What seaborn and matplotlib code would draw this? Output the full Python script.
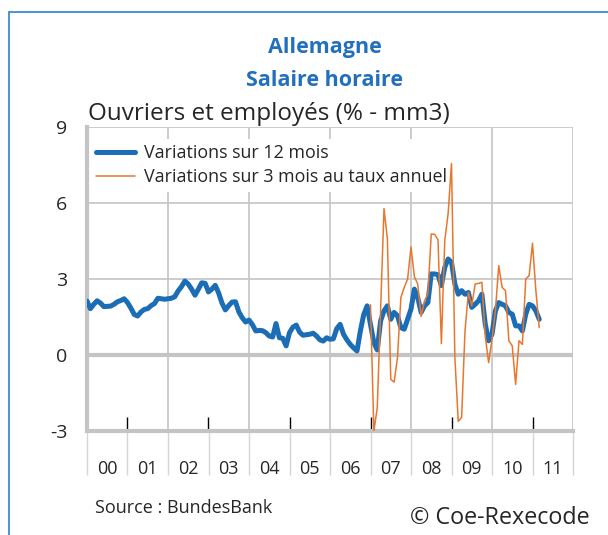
import numpy as np
import pandas as pd
import matplotlib
matplotlib.use("Agg")
import matplotlib.pyplot as plt
import seaborn as sns
from matplotlib.patches import Rectangle

# Données mensuelles, janvier 2000 -> mars 2011
years = ["00", "01", "02", "03", "04", "05", "06", "07", "08", "09", "10", "11"]

wage_12m = [
    2.13, 1.83, 2.0, 2.14, 2.05, 1.91, 1.92, 1.93, 2.0, 2.1, 2.15, 2.22,      # 2000
    2.07, 1.85, 1.6, 1.54, 1.7, 1.8, 1.83, 1.95, 2.03, 2.24, 2.22, 2.2,       # 2001
    2.22, 2.24, 2.3, 2.53, 2.7, 2.92, 2.8, 2.6, 2.36, 2.6, 2.85, 2.83,        # 2002
    2.49, 2.6, 2.75, 2.45, 2.05, 1.78, 1.95, 2.09, 2.1, 1.7, 1.47, 1.3,       # 2003
    1.38, 1.2, 0.95, 0.97, 0.96, 0.88, 0.75, 0.71, 1.24, 0.68, 0.66, 0.36,    # 2004
    0.88, 1.1, 1.18, 0.9, 0.78, 0.8, 0.82, 0.86, 0.75, 0.6, 0.55, 0.68,       # 2005
    0.62, 0.64, 1.04, 1.21, 0.82, 0.6, 0.42, 0.28, 0.16, 0.95, 1.6, 1.94,     # 2006
    1.2, 0.49, 0.2, 1.35, 1.74, 1.94, 1.41, 1.68, 1.55, 1.08, 1.02, 1.41,     # 2007
    1.81, 2.6, 2.27, 1.68, 1.94, 2.07, 3.2, 3.2, 3.17, 2.74, 3.46, 3.79,      # 2008
    3.66, 2.8, 2.4, 2.54, 2.4, 2.47, 1.88, 2.0, 2.14, 2.4, 1.22, 0.56,        # 2009
    0.82, 1.74, 2.07, 2.0, 1.94, 1.68, 1.61, 1.15, 1.15, 0.95, 1.61, 2.0,     # 2010
    1.94, 1.74, 1.41,                                                         # 2011
]

# taux annualisé sur 3 mois, à partir de janvier 2007
first_3m_month = 84
wage_3m_ann = [
    1.98, -3.0, -2.09, 1.8, 5.78, 4.59, -0.96, -1.07, -0.1, 2.27, 2.67, 3.0,  # 2007
    4.26, 3.09, 2.8, 1.52, 2.14, 2.4, 4.78, 4.76, 4.55, 0.45, 4.52, 5.58,     # 2008
    7.56, -0.1, -2.62, -2.46, 0.95, 2.47, 1.94, 2.8, 2.83, 2.87, 0.75, -0.3,  # 2009
    0.62, 1.74, 3.53, 2.67, 2.54, 0.56, 0.36, -1.16, 0.56, 0.42, 3.0, 3.13,   # 2010
    4.41, 2.54, 1.08,                                                         # 2011
]

BLUE = "#1b6db6"
ORANGE = "#e8772e"
TITLE_BLUE = "#2270bd"
GRID = "#c8c8c8"

sns.set_style("white")
plt.rcParams["font.family"] = ["Open Sans", "DejaVu Sans"]
plt.rcParams["axes.unicode_minus"] = False

df12 = pd.DataFrame({"mois": np.arange(len(wage_12m)), "valeur": wage_12m})
df3 = pd.DataFrame({
    "mois": np.arange(first_3m_month, first_3m_month + len(wage_3m_ann)),
    "valeur": wage_3m_ann,
})

fig = plt.figure(figsize=(6.08, 5.35), dpi=100)
ax = fig.add_axes([87 / 608, 1 - 431 / 535, (573 - 87) / 608, (431 - 127) / 535])

sns.lineplot(data=df12, x="mois", y="valeur", ax=ax, color=BLUE, lw=3.6,
             label="Variations sur 12 mois", zorder=4)
sns.lineplot(data=df3, x="mois", y="valeur", ax=ax, color=ORANGE, lw=1.1,
             label="Variations sur 3 mois au taux annuel", zorder=6)

ax.set_xlim(0, 144)
ax.set_ylim(-3, 9)
ax.set_xlabel("")
ax.set_ylabel("")

# grille
for v in [3, 6, 9]:
    ax.axhline(v, color=GRID, lw=1.3, zorder=1)
ax.axhline(0, color="#c4c4c4", lw=3, zorder=2)
for m in range(24, 145, 24):
    ax.axvline(m, color=GRID, lw=1.3, zorder=1)

for s in ["top", "right"]:
    ax.spines[s].set_visible(False)
for s in ["left", "bottom"]:
    ax.spines[s].set_color("#c4c4c4")
    ax.spines[s].set_linewidth(3)

ax.set_yticks([-3, 0, 3, 6, 9])
ax.tick_params(axis="y", length=0, labelsize=14, pad=14)

ax.set_xticks(np.arange(6, 144, 12), labels=years)
ax.set_xticks(np.arange(0, 145, 12), minor=True)
ax.tick_params(axis="x", which="major", bottom=True, length=0, labelsize=13, pad=21)
ax.tick_params(axis="x", which="minor", bottom=True, direction="out", length=32,
               color="#d6d6d6", width=1)

sec = ax.secondary_xaxis("bottom")
sec.set_xticks(np.arange(12, 145, 24))
sec.tick_params(bottom=True, direction="in", length=10, width=1, color="black",
                labelbottom=False)
sec.spines["bottom"].set_visible(False)

leg = ax.legend(loc="upper left", bbox_to_anchor=(0.0, 0.972), fontsize=12.9,
                frameon=True, facecolor="white", edgecolor="none", framealpha=1,
                handlelength=2.2, handletextpad=0.5, labelspacing=0.33,
                borderpad=0.3, borderaxespad=0.2)
leg.set_zorder(3)

fig.text(325 / 608, 1 - 48 / 535, "Allemagne", ha="center", va="center",
         fontsize=15.5, fontweight="bold", color=TITLE_BLUE)
fig.text(325 / 608, 1 - 80 / 535, "Salaire horaire", ha="center", va="center",
         fontsize=15.5, fontweight="bold", color=TITLE_BLUE)
fig.text(88 / 608, 1 - 114 / 535, "Ouvriers et employés (% - mm3)",
         ha="left", va="center", fontsize=17.5)
fig.text(95 / 608, 1 - 508 / 535, "Source : BundesBank", ha="left", va="center",
         fontsize=13)
fig.text(590 / 608, 1 - 518 / 535, "© Coe-Rexecode", ha="right", va="center",
         fontsize=16.8)

fig.add_artist(Rectangle((9 / 608, -0.1), 1.2, 1 - 12 / 535 + 0.1,
                         transform=fig.transFigure, fill=False,
                         edgecolor="#3d8ad6", lw=1.3))

fig.savefig("out.png", dpi=100)
